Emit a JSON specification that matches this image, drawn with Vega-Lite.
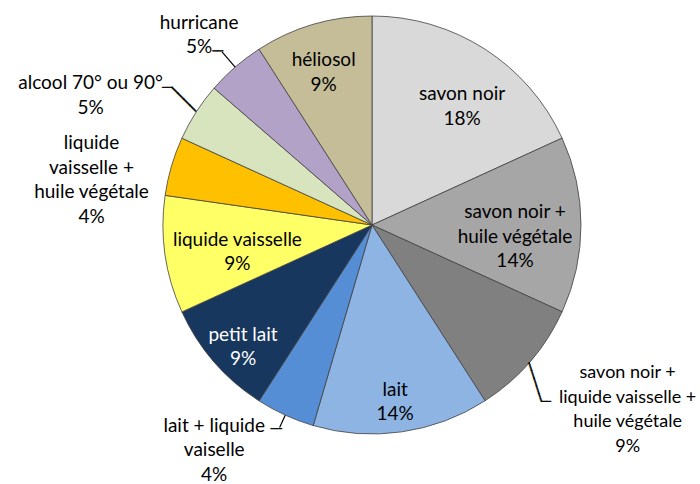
{
  "$schema": "https://vega.github.io/schema/vega-lite/v6.json",
  "width": 418,
  "height": 418,
  "autosize": "none",
  "padding": {"left": 163, "top": 16, "right": 119, "bottom": 50},
  "background": "white",
  "config": {
    "view": {"stroke": null},
    "text": {"font": "Lato", "fontSize": 19, "lineHeight": 24.5, "fill": "#000000", "lineBreak": "\n", "align": "center", "baseline": "middle"}
  },
  "data": {
    "values": [
      {"i": 1, "name": "savon noir", "share": 18.18, "label": "savon noir\n18%"},
      {"i": 2, "name": "savon noir + huile végétale", "share": 13.64, "label": "savon noir +\nhuile végétale\n14%"},
      {"i": 3, "name": "savon noir + liquide vaisselle + huile végétale", "share": 9.09, "label": "savon noir +\nliquide vaisselle +\nhuile végétale\n9%"},
      {"i": 4, "name": "lait", "share": 13.64, "label": "lait\n14%"},
      {"i": 5, "name": "lait + liquide vaiselle", "share": 4.55, "label": "lait + liquide\nvaiselle\n4%"},
      {"i": 6, "name": "petit lait", "share": 9.09, "label": "petit lait\n9%"},
      {"i": 7, "name": "liquide vaisselle", "share": 9.09, "label": "liquide vaisselle\n9%"},
      {"i": 8, "name": "liquide vaisselle + huile végétale", "share": 4.55, "label": "liquide\nvaisselle +\nhuile végétale\n4%"},
      {"i": 9, "name": "alcool 70° ou 90°", "share": 4.55, "label": "alcool 70° ou 90°\n5%"},
      {"i": 10, "name": "hurricane", "share": 4.55, "label": "hurricane\n5%"},
      {"i": 11, "name": "héliosol", "share": 9.09, "label": "héliosol\n9%"}
    ]
  },
  "encoding": {
    "theta": {"field": "share", "type": "quantitative", "stack": true},
    "order": {"field": "i", "type": "quantitative"}
  },
  "layer": [
    {
      "mark": {"type": "arc", "outerRadius": 209, "stroke": "#404040", "strokeWidth": 0.8},
      "encoding": {
        "color": {
          "field": "name", "type": "nominal", "legend": null,
          "scale": {
            "domain": ["savon noir", "savon noir + huile végétale", "savon noir + liquide vaisselle + huile végétale", "lait", "lait + liquide vaiselle", "petit lait", "liquide vaisselle", "liquide vaisselle + huile végétale", "alcool 70° ou 90°", "hurricane", "héliosol"],
            "range": ["#D9D9D9", "#A6A6A6", "#808080", "#8EB4E3", "#558ED5", "#17375E", "#FFFF66", "#FFC000", "#D7E4BD", "#B3A2C7", "#C4BD97"]
          }
        }
      }
    },
    {
      "mark": {"type": "arc", "innerRadius": 209, "outerRadius": 229, "padAngle": 3.1416, "stroke": "#000000", "strokeWidth": 1.2, "fill": null},
      "encoding": {"strokeOpacity": {"condition": {"test": "datum.i == 10", "value": 1}, "value": 0}}
    },
    {
      "mark": {"type": "arc", "innerRadius": 209, "outerRadius": 222.5, "padAngle": 3.1416, "stroke": "#000000", "strokeWidth": 1.2, "fill": null},
      "encoding": {"strokeOpacity": {"condition": {"test": "datum.i == 5", "value": 1}, "value": 0}}
    },
    {
      "mark": {"type": "text", "font": "DejaVu Sans", "fontSize": 14.1, "angle": 45, "radius": 226.3, "dx": -1, "dy": -3.1, "stroke": "#000000", "strokeWidth": 0.5},
      "encoding": {"text": {"condition": {"test": "datum.i == 9", "value": "────"}, "value": ""}}
    },
    {
      "mark": {"type": "text", "font": "DejaVu Sans", "fontSize": 13.6, "angle": 72, "radius": 226.5, "dx": 5.9, "dy": 11, "stroke": "#000000", "strokeWidth": 0.5},
      "encoding": {"text": {"condition": {"test": "datum.i == 3", "value": "─────"}, "value": ""}}
    },
    {
      "mark": {"type": "text", "font": "DejaVu Sans", "fontSize": 8.8, "align": "right", "radius": 229, "dx": 1, "dy": -0.5, "stroke": "#000000", "strokeWidth": 0.5},
      "encoding": {"text": {"condition": {"test": "datum.i == 10", "value": "──"}, "value": ""}}
    },
    {
      "mark": {"type": "text", "font": "DejaVu Sans", "fontSize": 7.8, "align": "right", "radius": 242.9, "dx": 4, "dy": -6, "stroke": "#000000", "strokeWidth": 0.5},
      "encoding": {"text": {"condition": {"test": "datum.i == 9", "value": "──"}, "value": ""}}
    },
    {
      "mark": {"type": "text", "font": "DejaVu Sans", "fontSize": 9.1, "align": "right", "radius": 222.5, "dx": 2, "dy": 1.3, "stroke": "#000000", "strokeWidth": 0.5},
      "encoding": {"text": {"condition": {"test": "datum.i == 5", "value": "──"}, "value": ""}}
    },
    {
      "mark": {"type": "text", "font": "DejaVu Sans", "fontSize": 7.7, "align": "left", "radius": 244, "dx": -14.8, "dy": 17.4, "stroke": "#000000", "strokeWidth": 0.5},
      "encoding": {"text": {"condition": {"test": "datum.i == 3", "value": "──"}, "value": ""}}
    },
    {
      "mark": {"type": "text", "radius": 150, "dx": 9, "dy": -4.5},
      "encoding": {"text": {"condition": {"test": "datum.i == 1", "field": "label"}, "value": ""}}
    },
    {
      "mark": {"type": "text", "radius": 143, "dy": -12.5},
      "encoding": {"text": {"condition": {"test": "datum.i == 2", "field": "label"}, "value": ""}}
    },
    {
      "mark": {"type": "text", "radius": 280, "dx": 44, "dy": -35, "fontSize": 18},
      "encoding": {"text": {"condition": {"test": "datum.i == 3", "field": "label"}, "value": ""}}
    },
    {
      "mark": {"type": "text", "radius": 176, "dx": -2, "dy": -9.5},
      "encoding": {"text": {"condition": {"test": "datum.i == 4", "field": "label"}, "value": ""}}
    },
    {
      "mark": {"type": "text", "radius": 250, "dx": -54, "dy": -26.5},
      "encoding": {"text": {"condition": {"test": "datum.i == 5", "field": "label"}, "value": ""}}
    },
    {
      "mark": {"type": "text", "radius": 176, "dx": 4, "dy": -5.5, "fill": "#FFFFFF"},
      "encoding": {"text": {"condition": {"test": "datum.i == 6", "field": "label"}, "value": ""}}
    },
    {
      "mark": {"type": "text", "radius": 136, "dy": -4.5},
      "encoding": {"text": {"condition": {"test": "datum.i == 7", "field": "label"}, "value": ""}}
    },
    {
      "mark": {"type": "text", "radius": 285, "dx": -7, "dy": -1.5},
      "encoding": {"text": {"condition": {"test": "datum.i == 8", "field": "label"}, "value": ""}}
    },
    {
      "mark": {"type": "text", "radius": 300, "dx": -29, "dy": 20.5},
      "encoding": {"text": {"condition": {"test": "datum.i == 9", "field": "label"}, "value": ""}}
    },
    {
      "mark": {"type": "text", "radius": 258, "dx": -4, "dy": -7.5},
      "encoding": {"text": {"condition": {"test": "datum.i == 10", "field": "label"}, "value": ""}}
    },
    {
      "mark": {"type": "text", "radius": 161, "dx": -3, "dy": -10.5},
      "encoding": {"text": {"condition": {"test": "datum.i == 11", "field": "label"}, "value": ""}}
    }
  ]
}
